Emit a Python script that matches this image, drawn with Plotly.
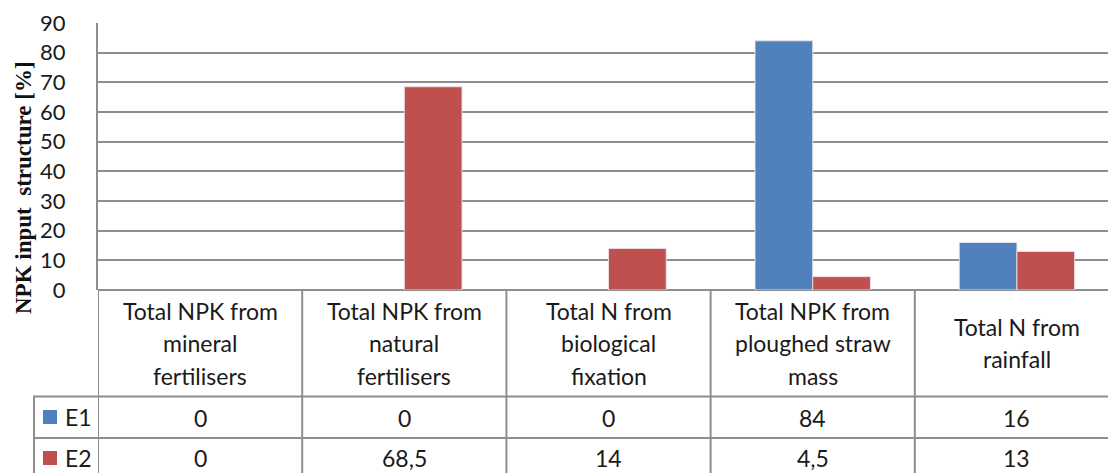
import plotly.graph_objects as go

categories = ["Total NPK from<br>mineral<br>fertilisers",
              "Total NPK from<br>natural<br>fertilisers",
              "Total N from<br>biological<br>fixation",
              "Total NPK from<br>ploughed straw<br>mass",
              "Total N from<br>rainfall"]
series_names = ["E1", "E2"]
e1_values = [0, 0, 0, 84, 16]
e2_values = [0, 68.5, 14, 4.5, 13]
e1_labels = ["0", "0", "0", "84", "16"]
e2_labels = ["0", "68,5", "14", "4,5", "13"]
colors = ["#4F81BD", "#C0504D"]

W, H = 1108, 473
L, R, T, B = 98, 0, 23, 183
PW, PH = W - L - R, H - T - B
GRID = "#8e8e8e"
TXT = "#1a1a1a"
FONT = "Lato"
FS = 23


def py(p):
    return (H - B - p) / PH


def px(p):
    return (p - L) / PW


xs = list(range(len(categories)))
fig = go.Figure()
for name, vals, c in zip(series_names, [e1_values, e2_values], colors):
    fig.add_trace(go.Bar(x=xs, y=vals, name=name, marker_color=c,
                         marker_line=dict(color="rgba(235,225,230,0.9)",
                                          width=[0 if v == 0 else 1 for v in vals])))

shapes = []
annotations = []
row2_top, row3_top, bottom = 396.5, 438, 473
for yy in [row2_top, row3_top]:
    shapes.append(dict(type="line", xref="paper", yref="paper", x0=px(33), x1=1, y0=py(yy), y1=py(yy),
                       line=dict(color=GRID, width=2)))
shapes.append(dict(type="line", xref="paper", yref="paper", x0=px(34), x1=px(34), y0=py(row2_top), y1=py(bottom),
                   line=dict(color=GRID, width=2)))
for i in range(len(categories) + 1):
    shapes.append(dict(type="line", xref="x", yref="paper", x0=i - 0.5, x1=i - 0.5, y0=0, y1=py(bottom),
                       line=dict(color=GRID, width=2)))

line_y = [311, 343, 376]
for i, cat in enumerate(categories):
    parts = cat.split("<br>")
    ys = line_y if len(parts) == 3 else [327, 359]
    for part, yy in zip(parts, ys):
        annotations.append(dict(x=i, y=py(yy), xref="x", yref="paper", text=part, showarrow=False,
                                font=dict(family=FONT, size=FS, color=TXT), xanchor="center", yanchor="middle"))
for labels, yy in [(e1_labels, 417.5), (e2_labels, 458)]:
    for i, t in enumerate(labels):
        annotations.append(dict(x=i, y=py(yy), xref="x", yref="paper", text=t, showarrow=False,
                                font=dict(family=FONT, size=FS, color=TXT), xanchor="center", yanchor="middle"))
for name, c, yy in zip(series_names, colors, [417, 458]):
    shapes.append(dict(type="rect", xref="paper", yref="paper", x0=px(43), x1=px(57), y0=py(yy - 7), y1=py(yy + 7),
                       fillcolor=c, line=dict(width=0)))
    annotations.append(dict(x=px(63), y=py(yy), xref="paper", yref="paper", text=name, showarrow=False,
                            font=dict(family=FONT, size=FS, color=TXT), xanchor="left", yanchor="middle"))
annotations.append(dict(x=px(23), y=py(188), xref="paper", yref="paper", text="<b>NPK input  structure [%]</b>",
                        textangle=-90, showarrow=False,
                        font=dict(family="Liberation Serif", size=23, color="#111"),
                        xanchor="center", yanchor="middle"))

fig.update_layout(
    width=W, height=H,
    margin=dict(l=L, r=R, t=T, b=B, pad=0),
    paper_bgcolor="white", plot_bgcolor="white",
    barmode="group", bargap=0.435, bargroupgap=0,
    showlegend=False,
    shapes=shapes, annotations=annotations,
    xaxis=dict(range=[-0.5, 4.446], showticklabels=False, showgrid=False, zeroline=False, showline=False,
               fixedrange=True),
    yaxis=dict(range=[0, 90], dtick=10, tick0=0, showgrid=True, gridcolor=GRID, gridwidth=2,
               zeroline=True, zerolinecolor=GRID, zerolinewidth=2,
               showline=True, linecolor=GRID, linewidth=2,
               ticks="", ticklabelstandoff=26,
               tickfont=dict(family=FONT, size=22, color=TXT), fixedrange=True),
)
fig.write_html("out.html", config={"displayModeBar": False},
               post_script="document.body.style.margin='0';document.body.style.overflow='hidden';")
